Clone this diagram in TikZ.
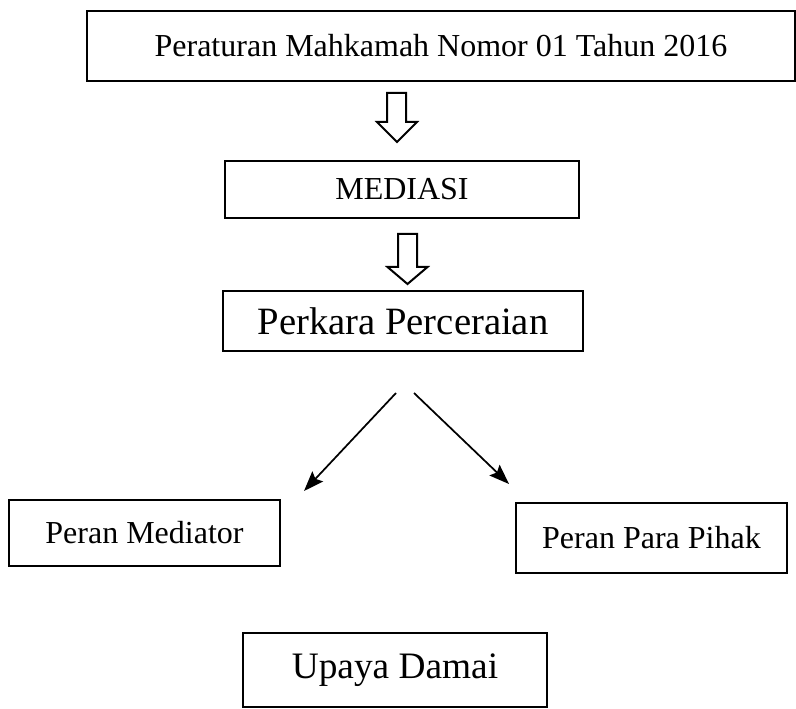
\documentclass[tikz,border=0pt]{standalone}
\usepackage{fontspec}
\setmainfont{Liberation Serif}
\usetikzlibrary{arrows.meta}
\tikzset{every picture/.style={line width=0.75pt}}
\tikzset{
	box/.style={draw, line width=2pt, inner sep=0pt, align=center, font=\fontsize{24}{28}\selectfont},
	bigbox/.style={box, font=\fontsize{29}{33}\selectfont},
	hollow/.style={draw, line width=1.5pt, fill=white, line join=miter},
	flow/.style={draw, line width=1.3pt, -{Stealth[length=15pt,width=11pt,inset=2.5pt]}}}

\begin{document}
\begin{tikzpicture}[x=0.75pt,y=0.75pt,yscale=-1,xscale=1]
	\useasboundingbox (0,0) rectangle (796,709);

	% Boxes
	\node [box, minimum width=531pt, minimum height=52.5pt] (perma) at (441,46) {Peraturan Mahkamah Nomor 01 Tahun 2016};
	\node [box, minimum width=265.5pt, minimum height=42.75pt] (mediasi) at (402,189.5) {MEDIASI};
	\node [bigbox, minimum width=270pt, minimum height=45pt] (perkara) at (403,321) {Perkara Perceraian};
	\node [box, minimum width=203.25pt, minimum height=49.5pt] (mediator) at (144.5,533) {Peran Mediator};
	\node [box, minimum width=203.25pt, minimum height=52.5pt] (pihak) at (651.5,538) {Peran Para Pihak};
	\node [bigbox, font=\fontsize{28}{32}\selectfont, minimum width=228pt, minimum height=55.5pt] (damai) at (395,670) {Upaya Damai};

	%Shape: Down Arrow
	\draw [hollow] (387,93) -- (406,93) -- (406,122) -- (417,122) -- (397,142) -- (377,122) -- (387,122) -- cycle ;
	%Shape: Down Arrow
	\draw [hollow] (398,234) -- (417,234) -- (417,267) -- (427.5,267) -- (407.5,284) -- (387.5,267) -- (398,267) -- cycle ;

	% Branch arrows
	\coordinate (splitL) at (396,393);
	\coordinate (splitR) at (414,393);
	\coordinate (endL) at (304,491);
	\coordinate (endR) at (509,484);
	\draw [flow] (splitL) -- (endL);
	\draw [flow] (splitR) -- (endR);

\end{tikzpicture}
\end{document}
